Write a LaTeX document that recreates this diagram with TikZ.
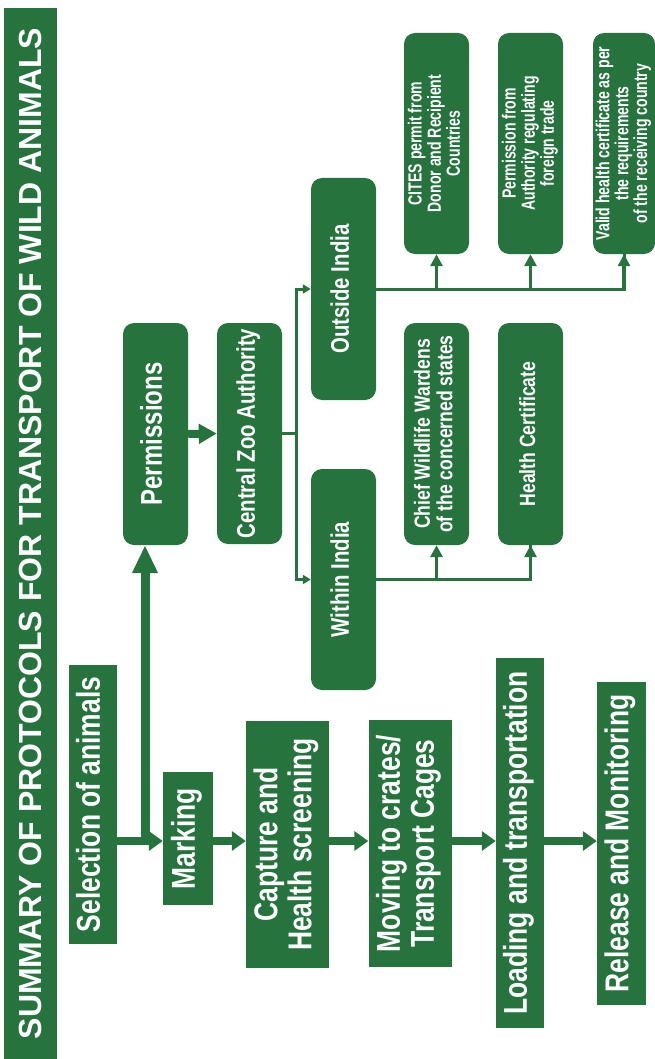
\documentclass[tikz,border=0pt]{standalone}
\usepackage{graphicx}
\usepackage{fontspec}
\setmainfont{Liberation Sans}
\newfontfamily\nfa{Liberation Sans}[FakeStretch=0.8]
\newfontfamily\nfb{Liberation Sans}[FakeStretch=0.74]
\usetikzlibrary{arrows.meta}
\definecolor{zg}{RGB}{38,115,62}
\newcommand\rtxt[1]{\rotatebox{90}{\begin{tabular}{@{}c@{}}#1\end{tabular}}}
\begin{document}
\begin{tikzpicture}[x=1pt,y=-1pt,
  sqbox/.style={fill=zg, text=white, inner sep=0pt, draw=none},
  rbox/.style={sqbox, rounded corners=11pt},
  mainf/.style={font=\nfa\bfseries\fontsize{33}{34}\selectfont},
  flowarrow/.style={draw=zg, line width=8.5pt, -{Triangle[length=14pt,width=19pt]}},
  uparrow/.style={draw=zg, line width=9pt, -{Triangle[length=28pt,width=24pt]}},
  medarrow/.style={draw=zg, line width=8pt, -{Triangle[length=18pt,width=19pt]}},
  thinline/.style={draw=zg, line width=3pt},
  smallarrow/.style={thinline, -{Triangle[length=8pt,width=9pt]}},
  stemarrow/.style={draw=zg, line width=3.5pt, -{Triangle[length=12pt,width=12pt]}}
]
\useasboundingbox (0,0) rectangle (655,1059);

% title bar
\node[sqbox, minimum width=53pt, minimum height=1051pt,
      font=\bfseries\fontsize{32}{36}\selectfont] (title) at (30.5,533.5)
  {\rotatebox{90}{SUMMARY OF PROTOCOLS FOR TRANSPORT OF WILD ANIMALS}};

% main flow
\node[sqbox, mainf, minimum width=48pt, minimum height=279pt] (sel) at (93,804.5) {\rtxt{Selection of animals}};
\node[sqbox, mainf, minimum width=50pt, minimum height=133pt] (mark) at (188,838.5) {\rtxt{Marking}};
\node[sqbox, mainf, minimum width=83pt, minimum height=247pt] (cap) at (287.5,844.5) {\rtxt{Capture and\\Health screening}};
\node[sqbox, mainf, minimum width=83pt, minimum height=247pt] (mov) at (410,843.5) {\rtxt{Moving to crates/\\Transport Cages}};
\node[sqbox, mainf, minimum width=48pt, minimum height=370pt] (load) at (520,843) {\rtxt{Loading and transportation}};
\node[sqbox, mainf, minimum width=49pt, minimum height=323pt] (rel) at (621.5,843.5) {\rtxt{Release and Monitoring}};

% permissions branch
\node[rbox, font=\nfa\bfseries\fontsize{30}{32}\selectfont, minimum width=65pt, minimum height=222pt] (perm) at (155.5,434) {\rtxt{Permissions}};
\node[rbox, font=\nfa\bfseries\fontsize{25.5}{27}\selectfont, minimum width=65pt, minimum height=221pt] (cza) at (249.5,433.5) {\rtxt{Central Zoo Authority}};
\node[rbox, font=\nfa\bfseries\fontsize{25.5}{27}\selectfont, minimum width=65pt, minimum height=222pt] (out) at (343.5,289) {\rtxt{Outside India}};
\node[rbox, font=\nfa\bfseries\fontsize{25.5}{27}\selectfont, minimum width=65pt, minimum height=221pt] (win) at (343.5,579.5) {\rtxt{Within India}};

\node[rbox, font=\nfb\bfseries\fontsize{19}{17.5}\selectfont, minimum width=65pt, minimum height=221pt] (cites) at (436.5,143.5) {\rtxt{CITES permit from\\Donor and Recipient\\Countries}};
\node[rbox, font=\nfb\bfseries\fontsize{19}{17.5}\selectfont, minimum width=65pt, minimum height=221pt] (pauth) at (530.5,143.5) {\rtxt{Permission from\\Authority regulating\\foreign trade}};
\node[rbox, font=\nfb\bfseries\fontsize{19}{17}\selectfont, minimum width=62pt, minimum height=221pt] (valid) at (624,143.5) {\rtxt{Valid health certificate as per\\the requirements\\of the receiving country}};

\node[rbox, font=\nfa\bfseries\fontsize{22}{22.5}\selectfont, minimum width=65pt, minimum height=222pt] (chief) at (436.5,434) {\rtxt{Chief Wildlife Wardens\\of the concerned states}};
\node[rbox, font=\nfa\bfseries\fontsize{22}{22.5}\selectfont, minimum width=65pt, minimum height=222pt] (hc) at (530.5,434) {\rtxt{Health Certificate}};

% main flow arrows
\coordinate (fl) at (0,841);
\coordinate (vx) at (145,0);
\draw[flowarrow] (sel.east |- fl) -- (mark.west |- fl);
\draw[flowarrow] (mark.east |- fl) -- (cap.west |- fl);
\draw[flowarrow] (cap.east |- fl) -- (mov.west |- fl);
\draw[flowarrow] (mov.east |- fl) -- (load.west |- fl);
\draw[flowarrow] (load.east |- fl) -- (rel.west |- fl);
\draw[uparrow] (vx |- fl) -- (vx |- perm.south);

% permissions connectors
\draw[medarrow] (perm.east) -- (cza.west);
\coordinate (jn) at (296,433.5);
\draw[thinline] (cza.east) -- (jn);
\draw[smallarrow] (jn) |- (out.west);
\draw[smallarrow] (jn) |- (win.west);

\draw[thinline] (out.east) -| (valid.south);
\draw[stemarrow] (valid.south |- out.east) -- (valid.south);
\draw[stemarrow] (cites.south |- out.east) -- (cites.south);
\draw[stemarrow] (pauth.south |- out.east) -- (pauth.south);

\draw[thinline] (win.east) -| (hc.south);
\draw[stemarrow] (hc.south |- win.east) -- (hc.south);
\draw[stemarrow] (chief.south |- win.east) -- (chief.south);
\end{tikzpicture}
\end{document}
